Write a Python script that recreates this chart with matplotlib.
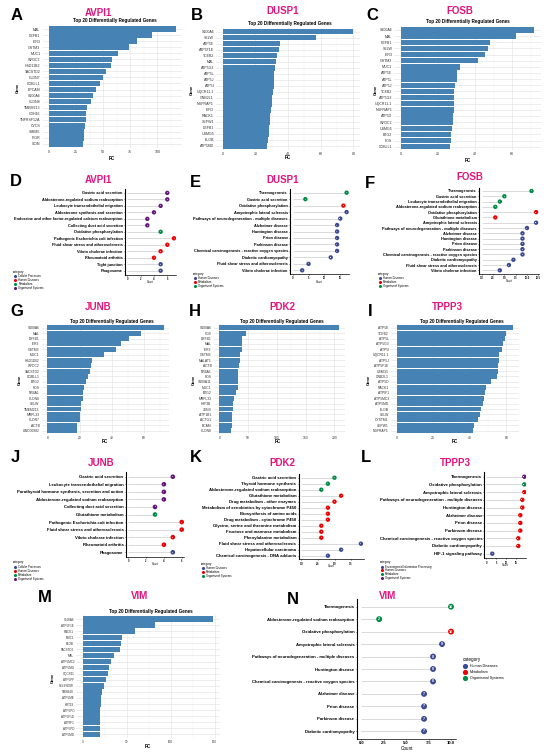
import matplotlib
matplotlib.use('Agg')
import matplotlib.pyplot as plt
import numpy as np

plt.rcParams['font.family'] = ['Liberation Sans', 'DejaVu Sans']

W, H = 550, 756

# ---- bar chart data (top 20 genes, FC) ----
A_genes = ['MAL', 'DEFB1', 'IER3', 'GSTM3', 'MUC1', 'WFDC2', 'HSD11B2', 'TACSTD2', 'CLDN7', 'COBLL1',
           'EPCAM', 'S100A6', 'CLDN8', 'TMEM213', 'CDH16', 'TNFRSF12A', 'CYCS', 'SMIM5', 'PIGR', 'SCIN']
A_fc = [117, 95, 81, 74, 64, 58, 57, 53, 50, 47, 43, 41, 39, 35, 34, 34, 33, 32, 32, 31]

B_genes = ['S100A6', 'SELW', 'ATP5E', 'ATP5F1E', 'TCEB2', 'MAL', 'ATP5G3', 'ATP5L', 'ATP5J', 'ATP5I',
           'UQCR11.1', 'GNB2L1', 'NGFRAP1', 'IER3', 'RACK1', 'SEPW1', 'DEFB1', 'USMG5', 'ELOB', 'ATP5MD']
B_fc = [80, 57, 35, 34.3, 33.3, 32.7, 31.8, 31.4, 31.4, 31.3, 30.6, 30.4, 30.2, 29.4, 29, 28.8, 28.6, 28.5, 27.8, 27.3]

C_genes = ['S100A6', 'MAL', 'DEFB1', 'SELW', 'IER3', 'GSTM3', 'MUC1', 'ATP5E', 'ATP5L', 'ATP5J',
           'TCEB2', 'ATP5G3', 'UQCR11.1', 'NGFRAP1', 'ATP5D', 'WFDC2', 'USMG5', 'BTG2', 'FOS', 'COBLL1']
C_fc = [72, 62, 48, 47.2, 45.4, 41.4, 31.7, 30.4, 30.3, 29, 28.8, 28.8, 28.6, 28.5, 28.3, 27.9, 27.4, 27.2, 26.8, 26.7]

G_genes = ['S100A6', 'MAL', 'DEFB1', 'IER3', 'GSTM3', 'MUC1', 'HSD11B2', 'WFDC2', 'TACSTD2', 'COBLL1',
           'BTG2', 'FOS', 'NR4A1', 'CLDN8', 'SELW', 'TMEM213', 'MRPL33', 'CLDN7', 'ACTB', 'LINC00982']
G_fc = [72, 58, 50.5, 45.5, 42.5, 35, 27.7, 27.3, 26.2, 25, 24, 22.8, 22.3, 22.1, 21, 20.6, 20.4, 20.2, 18.6, 18.4]

H_genes = ['S100A6', 'CD9', 'DEFB1', 'MAL', 'IER3', 'GSTM3', 'MALAT1', 'ACTB', 'NR4A1', 'FOS',
           'S100A11', 'MUC1', 'BTG2', 'MRPL33', 'H3F3B', 'JUNB', 'ATP1B1', 'ACTG1', 'BCAM', 'CLDN8']
H_fc = [208, 47, 40, 39.6, 38.4, 36.6, 36, 34.8, 33, 33, 32.3, 31.7, 28, 25, 23.8, 23.2, 22.6, 22, 21.3, 20.7]

I_genes = ['ATP5E', 'TCEB2', 'ATP5L', 'ATP5G3', 'ATP5I', 'UQCR11.1', 'ATP5J', 'ATP5F1E', 'USMG5', 'GNB2L1',
           'ATP5D', 'RACK1', 'ATPIF1', 'ATP5MC3', 'ATP5MD', 'ELOB', 'SELW', 'CYSTM1', 'SEPW1', 'NGFRAP1']
I_fc = [63.5, 60, 59.2, 58.3, 57.9, 55.8, 55.8, 55.4, 55.2, 54.8, 51.4, 49.1, 48.1, 47.8, 47.2, 46, 45.8, 44.3, 42.4, 41.6]

M_genes = ['S100A6', 'ATP5F1E', 'RACK1', 'MUC1', 'ELOB', 'TACSTD2', 'MAL', 'ATP5MC2', 'ATP5MG', 'UQCR11',
           'ATP5PF', 'SELENOW', 'TMSB4X', 'ATP5ME', 'KRT19', 'ATP5PO', 'ATP5F1D', 'ATPIF1', 'ATP5PD', 'ATP5MD']
M_fc = [148.5, 82.6, 59.8, 44.7, 43.6, 42.4, 36, 32.2, 29.5, 28.8, 26.5, 24.2, 22, 21.2, 20.5, 20, 20, 19.7, 19.7, 19.6]

# ---- KEGG dot plot data (Count) ----
CATEGORY_NAMES = {'CP': 'Cellular Processes', 'EIP': 'Environmental Information Processing',
                  'HD': 'Human Diseases', 'MET': 'Metabolism', 'OS': 'Organismal Systems'}
AAAS = ['#3B4992', '#EE0000', '#008B45', '#631879']

D_terms = ['Gastric acid secretion', 'Aldosterone-regulated sodium reabsorption',
           'Leukocyte transendothelial migration', 'Aldosterone synthesis and secretion',
           'Endocrine and other factor-regulated calcium reabsorption', 'Collecting duct acid secretion',
           'Oxidative phosphorylation', 'Pathogenic Escherichia coli infection',
           'Fluid shear stress and atherosclerosis', 'Vibrio cholerae infection', 'Rheumatoid arthritis',
           'Tight junction', 'Phagosome']
D_counts = [6, 6, 5, 4, 3, 3, 5, 7, 6, 5, 4, 5, 5]
D_cats = ['OS', 'OS', 'OS', 'OS', 'OS', 'OS', 'MET', 'HD', 'HD', 'HD', 'HD', 'CP', 'CP']

E_terms = ['Thermogenesis', 'Gastric acid secretion', 'Oxidative phosphorylation', 'Amyotrophic lateral sclerosis',
           'Pathways of neurodegeneration - multiple diseases', 'Alzheimer disease', 'Huntington disease',
           'Prion disease', 'Parkinson disease', 'Chemical carcinogenesis - reactive oxygen species',
           'Diabetic cardiomyopathy', 'Fluid shear stress and atherosclerosis', 'Vibrio cholerae infection']
E_counts = [17, 4, 16, 17, 15, 14, 14, 14, 14, 14, 12, 5, 3]
E_cats = ['OS', 'OS', 'MET', 'HD', 'HD', 'HD', 'HD', 'HD', 'HD', 'HD', 'HD', 'HD', 'HD']

F_terms = ['Thermogenesis', 'Gastric acid secretion', 'Leukocyte transendothelial migration',
           'Aldosterone-regulated sodium reabsorption', 'Oxidative phosphorylation', 'Glutathione metabolism',
           'Amyotrophic lateral sclerosis', 'Pathways of neurodegeneration - multiple diseases',
           'Alzheimer disease', 'Huntington disease', 'Prion disease', 'Parkinson disease',
           'Chemical carcinogenesis - reactive oxygen species', 'Diabetic cardiomyopathy',
           'Fluid shear stress and atherosclerosis', 'Vibrio cholerae infection']
F_counts = [11, 5, 4, 3, 12, 3, 12, 10, 9, 9, 9, 9, 9, 7, 6, 4]
F_cats = ['OS', 'OS', 'OS', 'OS', 'MET', 'MET', 'HD', 'HD', 'HD', 'HD', 'HD', 'HD', 'HD', 'HD', 'HD', 'HD']

J_terms = ['Gastric acid secretion', 'Leukocyte transendothelial migration',
           'Parathyroid hormone synthesis, secretion and action', 'Aldosterone-regulated sodium reabsorption',
           'Collecting duct acid secretion', 'Glutathione metabolism', 'Pathogenic Escherichia coli infection',
           'Fluid shear stress and atherosclerosis', 'Vibrio cholerae infection', 'Rheumatoid arthritis',
           'Phagosome']
J_counts = [5, 4, 4, 4, 3, 3, 6, 6, 5, 4, 5]
J_cats = ['OS', 'OS', 'OS', 'OS', 'OS', 'MET', 'HD', 'HD', 'HD', 'HD', 'CP']

K_terms = ['Gastric acid secretion', 'Thyroid hormone synthesis', 'Aldosterone-regulated sodium reabsorption',
           'Glutathione metabolism', 'Drug metabolism - other enzymes',
           'Metabolism of xenobiotics by cytochrome P450', 'Biosynthesis of amino acids',
           'Drug metabolism - cytochrome P450', 'Glycine, serine and threonine metabolism',
           'Fructose and mannose metabolism', 'Phenylalanine metabolism',
           'Fluid shear stress and atherosclerosis', 'Hepatocellular carcinoma',
           'Chemical carcinogenesis - DNA adducts']
K_counts = [5, 4, 3, 6, 5, 4, 4, 4, 3, 3, 3, 9, 6, 4]
K_cats = ['OS', 'OS', 'OS', 'MET', 'MET', 'MET', 'MET', 'MET', 'MET', 'MET', 'MET', 'HD', 'HD', 'HD']

L_terms = ['Thermogenesis', 'Oxidative phosphorylation', 'Amyotrophic lateral sclerosis',
           'Pathways of neurodegeneration - multiple diseases', 'Huntington disease', 'Alzheimer disease',
           'Prion disease', 'Parkinson disease', 'Chemical carcinogenesis - reactive oxygen species',
           'Diabetic cardiomyopathy', 'HIF-1 signaling pathway']
L_counts = [19, 19, 19, 18, 18, 17, 17, 17, 16, 16, 3]
L_cats = ['OS', 'MET', 'HD', 'HD', 'HD', 'HD', 'HD', 'HD', 'HD', 'HD', 'EIP']

N_terms = ['Thermogenesis', 'Aldosterone-regulated sodium reabsorption', 'Oxidative phosphorylation',
           'Amyotrophic lateral sclerosis', 'Pathways of neurodegeneration - multiple diseases',
           'Huntington disease', 'Chemical carcinogenesis - reactive oxygen species', 'Alzheimer disease',
           'Prion disease', 'Parkinson disease', 'Diabetic cardiomyopathy']
N_counts = [10, 2, 10, 9, 8, 8, 8, 7, 7, 7, 7]
N_cats = ['OS', 'OS', 'MET', 'HD', 'HD', 'HD', 'HD', 'HD', 'HD', 'HD', 'HD']

PINK = '#E4147C'
BAR_COLOR = '#4682B4'

# layout in pixels: box=(left, right, top, bottom)
BAR_PANELS = [
    ('A', 'AVPI1', A_genes, A_fc, dict(box=(42.7, 182, 25.4, 147.6), letter=(16.5, 15), title=(98.5, 13.5),
                                       sub=(115, 20.5), gene=(18, 88), fc=(112, 158.5), ticks=[0, 25, 50, 75, 100], fs=2.6)),
    ('B', 'DUSP1', B_genes, B_fc, dict(box=(216.2, 359.9, 28.1, 149.6), letter=(196.5, 15), title=(283, 11.5),
                                       sub=(290, 24), gene=(191.5, 90), fc=(288, 157.5), ticks=[0, 20, 40, 60, 80], fs=2.6)),
    ('C', 'FOSB', C_genes, C_fc, dict(box=(394.3, 540.9, 26.3, 150.4), letter=(372.5, 15), title=(459.5, 11.5),
                                      sub=(468, 21), gene=(376, 90), fc=(468, 160), ticks=[0, 20, 40, 60], fs=2.6)),
    ('G', 'JUNB', G_genes, G_fc, dict(box=(41.5, 169.4, 324.4, 434), letter=(17, 311), title=(98, 307.5),
                                      sub=(112, 321), gene=(20, 380), fc=(105, 441.5), ticks=[0, 20, 40, 60], fs=2.4)),
    ('H', 'PDK2', H_genes, H_fc, dict(box=(213.5, 344.9, 324.4, 434), letter=(195, 311.5), title=(282, 307.5),
                                      sub=(282, 321), gene=(194, 380), fc=(278, 441.5), ticks=[0, 50, 100, 150, 200], fs=2.4)),
    ('I', 'TPPP3', I_genes, I_fc, dict(box=(390.8, 518.5, 324.4, 434), letter=(370, 311.5), title=(447.5, 307.5),
                                       sub=(462, 321), gene=(369, 380), fc=(455, 441.5), ticks=[0, 20, 40, 60], fs=2.4)),
    ('M', 'VIM', M_genes, M_fc, dict(box=(76.2, 219.9, 615.4, 738), letter=(45, 598), title=(140, 596),
                                     sub=(151, 611), gene=(53, 678), fc=(148, 746.5), ticks=[0, 50, 100, 150], fs=2.2)),
]

DOT_PANELS = [
    ('D', 'AVPI1', D_terms, D_counts, D_cats, dict(box=(125, 176.3, 189, 274.6), letter=(15.5, 182), title=(98, 180),
        ticks=[0, 2, 4, 6], fmt='{:g}', count=(150, 281.8), leg=(15.3, 272.3, 276, 4.0), fs=2.8, s=10, small=True)),
    ('E', 'DUSP1', E_terms, E_counts, E_cats, dict(box=(290, 349.3, 188.8, 274.2), letter=(195, 182.5), title=(283, 180),
        ticks=[0, 5, 10, 15], fmt='{:g}', count=(319, 281.8), leg=(195, 273.7, 278, 4.0), fs=2.8, s=10, small=True)),
    ('F', 'FOSB', F_terms, F_counts, F_cats, dict(box=(479, 538.8, 187.8, 273.5), letter=(370, 184), title=(469.6, 177),
        ticks=[0, 2.5, 5, 7.5, 10, 12.5], fmt='{:.1f}', count=(509, 281.5), leg=(380, 274, 278, 4.0), fs=2.8, s=10, small=True)),
    ('J', 'JUNB', J_terms, J_counts, J_cats, dict(box=(125.6, 184.4, 472.2, 556.8), letter=(15.8, 457), title=(101.5, 463),
        ticks=[0, 2, 4, 6], fmt='{:g}', count=(155, 563.6), leg=(15, 562, 566.7, 4.0), fs=3.1, s=11, small=True)),
    ('K', 'PDK2', K_terms, K_counts, K_cats, dict(box=(298.5, 363.9, 474.1, 559.3), letter=(196, 457), title=(282, 463),
        ticks=[0, 2.5, 5, 7.5], fmt='{:.1f}', count=(331, 566), leg=(203, 564, 568.3, 3.9), fs=3.1, s=10, small=True)),
    ('L', 'TPPP3', L_terms, L_counts, L_cats, dict(box=(484.4, 526.2, 472.1, 558.3), letter=(366, 457), title=(455, 463),
        ticks=[0, 5, 10, 15], fmt='{:g}', count=(505, 565), leg=(381.7, 562.5, 566.7, 3.7), fs=3.1, s=10, small=True)),
    ('N', 'VIM', N_terms, N_counts, N_cats, dict(box=(356.7, 455.5, 599.2, 738.8), letter=(293, 599), title=(388, 596),
        ticks=[0, 2.5, 5, 7.5, 10], fmt='{:.1f}', count=(406.7, 748.5), leg=(465, 659.3, 666, 6.0), fs=3.1, s=18, small=False)),
]


def px_box(l, r, t, b):
    return [l / W, 1 - b / H, (r - l) / W, (b - t) / H]


def draw_bars(fig, ov, letter, name, genes, fc, lay):
    ax = fig.add_axes(px_box(*lay['box']))
    n = len(genes)
    pos = np.arange(n)
    top = max(fc)
    ax.set_xlim(-0.05 * top, 1.05 * top)
    ax.set_ylim(n - 0.4, -0.6)
    ticks = lay['ticks']
    step = ticks[1] - ticks[0]
    for v in np.arange(ticks[0] - step / 2, 1.05 * top, step):
        ax.axvline(v, color='#F0F0F0', lw=0.3, zorder=0)
    for v in ticks:
        ax.axvline(v, color='#E3E3E3', lw=0.45, zorder=0)
    for p in pos:
        ax.axhline(p, color='#E3E3E3', lw=0.45, zorder=0)
    ax.barh(pos, fc, height=0.9, color=BAR_COLOR, zorder=2)
    for sp in ax.spines.values():
        sp.set_visible(False)
    ax.set_xticks(ticks)
    ax.set_xticklabels([str(t) for t in ticks])
    ax.set_yticks(pos)
    ax.set_yticklabels(genes)
    ax.tick_params(axis='both', length=0, labelsize=lay['fs'], colors='#333333', pad=1.5)

    ov.text(*lay['letter'], letter, fontsize=12, fontweight='bold', ha='center', va='center')
    ov.text(*lay['title'], name, fontsize=7, fontweight='bold', color=PINK, ha='center', va='center')
    ov.text(*lay['sub'], 'Top 20 Differentially Regulated Genes', fontsize=3.3, fontweight='bold',
            ha='center', va='center')
    ov.text(*lay['gene'], 'Gene', fontsize=3.0, fontweight='bold', rotation=90, ha='center', va='center')
    ov.text(*lay['fc'], 'FC', fontsize=3.3, fontweight='bold', ha='center', va='center')


def draw_dots(fig, ov, letter, name, terms, counts, cats, lay):
    ax = fig.add_axes(px_box(*lay['box']))
    n = len(terms)
    pos = np.arange(n)
    present = sorted(set(cats), key=lambda c: CATEGORY_NAMES[c])
    cmap = {c: AAAS[i] for i, c in enumerate(present)}
    colors = [cmap[c] for c in cats]
    top = max(counts)
    ax.set_xlim(-0.05 * top, 1.05 * top)
    ax.set_ylim(n - 0.4, -0.6)
    ax.hlines(pos, 0, counts, color='#D3D3D3', lw=0.6, zorder=1)
    ax.scatter(counts, pos, s=lay['s'], c=colors, zorder=3, linewidths=0)
    tfs = 1.4 if lay['small'] else 2.6
    for c, p in zip(counts, pos):
        ax.text(c, p, str(c), fontsize=tfs, color='white', fontweight='bold',
                ha='center', va='center', zorder=4)
    for side in ['top', 'right']:
        ax.spines[side].set_visible(False)
    ax.spines['left'].set_linewidth(0.8)
    ax.spines['bottom'].set_linewidth(0.5)
    ax.set_yticks(pos)
    ax.set_yticklabels(terms, fontsize=lay['fs'], fontweight='bold')
    ax.set_xticks(lay['ticks'])
    ax.set_xticklabels([lay['fmt'].format(t) for t in lay['ticks']], fontweight='bold')
    ax.tick_params(axis='y', length=1.0, width=0.4, pad=0.6)
    xfs = 1.8 if lay['small'] else 3.0
    ax.tick_params(axis='x', length=1.0, width=0.4, pad=0.6, labelsize=xfs)

    ov.text(*lay['letter'], letter, fontsize=12, fontweight='bold', ha='center', va='center')
    ov.text(*lay['title'], name, fontsize=7, fontweight='bold', color=PINK, ha='center', va='center')
    ov.text(*lay['count'], 'Count', fontsize=1.8 if lay['small'] else 3.3, ha='center', va='center')

    xd, yt, y0, dy = lay['leg']
    tfs2 = 2.2 if lay['small'] else 3.3
    ifs = 2.0 if lay['small'] else 2.6
    sd = 5 if lay['small'] else 14
    ov.text(xd - 2, yt, 'category', fontsize=tfs2, ha='left', va='center')
    for i, c in enumerate(present):
        ov.scatter([xd], [y0 + i * dy], s=sd, color=AAAS[i], linewidths=0)
        ov.text(xd + (3 if lay['small'] else 5), y0 + i * dy, CATEGORY_NAMES[c], fontsize=ifs,
                ha='left', va='center')


def main():
    fig = plt.figure(figsize=(W / 100, H / 100), dpi=100)
    ov = fig.add_axes([0, 0, 1, 1], zorder=10)
    ov.set_xlim(0, W)
    ov.set_ylim(H, 0)
    ov.axis('off')

    for letter, name, genes, fc, lay in BAR_PANELS:
        draw_bars(fig, ov, letter, name, genes, fc, lay)
    for letter, name, terms, counts, cats, lay in DOT_PANELS:
        draw_dots(fig, ov, letter, name, terms, counts, cats, lay)

    fig.savefig('out.png', dpi=100)


if __name__ == "__main__":
    main()
